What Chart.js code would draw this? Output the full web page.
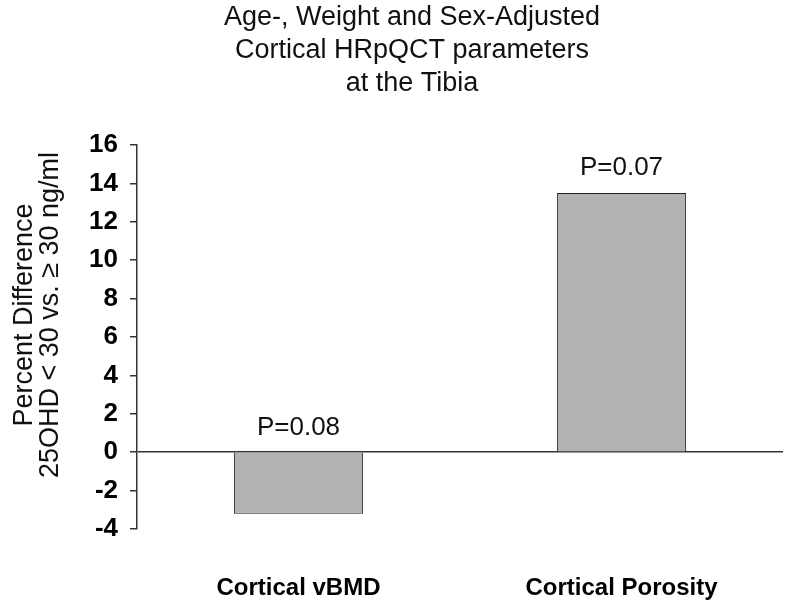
<!DOCTYPE html>
<html>
<head>
<meta charset="utf-8">
<script src="https://cdn.jsdelivr.net/npm/chart.js@4.4.1/dist/chart.umd.min.js"></script>
<style>
  html, body { margin: 0; padding: 0; background: #fff; }
  #wrap { width: 788px; height: 604px; position: relative; }
</style>
</head>
<body>
<div id="wrap"><canvas id="myChart"></canvas></div>
<script>
// DATOS DEL GRAFICO
const titleLines = ["Age-, Weight and Sex-Adjusted", "Cortical HRpQCT parameters", "at the Tibia"];
const categories = ["Cortical vBMD", "Cortical Porosity"];
const percentDiff = [-3.2, 13.5];
const pValues = ["P=0.08", "P=0.07"];
const yTitle = ["Percent Difference", "25OHD < 30 vs. \u2265 30 ng/ml"];
const yMin = -4;
const yMax = 16;
const yStep = 2;

const FONT = "'Liberation Sans', Arial, sans-serif";

// titulo de tres lineas (algo corrido a la derecha como en el original)
const titlePlugin = {
  id: "titleLines",
  afterDraw(chart) {
    const ctx = chart.ctx;
    ctx.save();
    ctx.font = "27px " + FONT;
    ctx.fillStyle = "#111";
    ctx.textAlign = "center";
    ctx.textBaseline = "alphabetic";
    titleLines.forEach((line, i) => {
      ctx.fillText(line, chart.width / 2 + 18, 25 + i * 33);
    });
    ctx.restore();
  }
};

// titulo del eje Y, dos lineas giradas, un poco mas arriba que el centro del area
const yTitlePlugin = {
  id: "yTitle",
  afterDraw(chart) {
    const ctx = chart.ctx;
    const area = chart.chartArea;
    const cy = (area.top + area.bottom) / 2 - 22;
    ctx.save();
    ctx.font = "27px " + FONT;
    ctx.fillStyle = "#111";
    ctx.textAlign = "center";
    ctx.textBaseline = "middle";
    yTitle.forEach((line, i) => {
      ctx.save();
      ctx.translate(25 + i * 26, cy);
      ctx.rotate(-Math.PI / 2);
      ctx.fillText(line, 0, 0);
      ctx.restore();
    });
    ctx.restore();
  }
};

// etiquetas P sobre cada barra
const pLabelPlugin = {
  id: "pLabels",
  afterDatasetsDraw(chart) {
    const ctx = chart.ctx;
    const meta = chart.getDatasetMeta(0);
    ctx.save();
    ctx.font = "26px " + FONT;
    ctx.fillStyle = "#111";
    ctx.textAlign = "center";
    ctx.textBaseline = "alphabetic";
    meta.data.forEach((bar, i) => {
      const top = Math.min(bar.y, bar.base);
      ctx.fillText(pValues[i], bar.x, top - 18);
    });
    ctx.restore();
  }
};

const config = {
  type: "bar",
  data: {
    labels: categories,
    datasets: [{
      data: percentDiff,
      backgroundColor: "#b3b3b3",
      borderColor: "#222",
      borderWidth: 1,
      barPercentage: 0.4,
      categoryPercentage: 1
    }]
  },
  options: {
    responsive: true,
    maintainAspectRatio: false,
    animation: false,
    layout: { padding: { top: 145, right: 5, bottom: 0, left: 0 } },
    plugins: {
      legend: { display: false },
      tooltip: { enabled: false }
    },
    scales: {
      x: {
        grid: { display: false, drawTicks: false },
        border: { display: false },
        ticks: {
          color: "#000",
          padding: 45,
          font: { family: FONT, size: 24, weight: "bold" }
        },
        afterFit: (scale) => { scale.height = 75; }
      },
      y: {
        min: yMin,
        max: yMax,
        ticks: {
          stepSize: yStep,
          color: "#000",
          padding: 12,
          font: { family: FONT, size: 26, weight: "bold" }
        },
        grid: {
          drawOnChartArea: true,
          color: (c) => (c.tick && c.tick.value === 0 ? "#333" : "rgba(0,0,0,0)"),
          tickColor: "#333",
          tickLength: 7,
          lineWidth: 1.5
        },
        border: { display: true, color: "#333", width: 1.5 },
        title: { display: false },
        afterFit: (scale) => { scale.width = 137; }
      }
    }
  },
  plugins: [titlePlugin, yTitlePlugin, pLabelPlugin]
};

const myChart = document.getElementById("myChart");
window.grafica = new Chart(myChart, config);
</script>
</body>
</html>
